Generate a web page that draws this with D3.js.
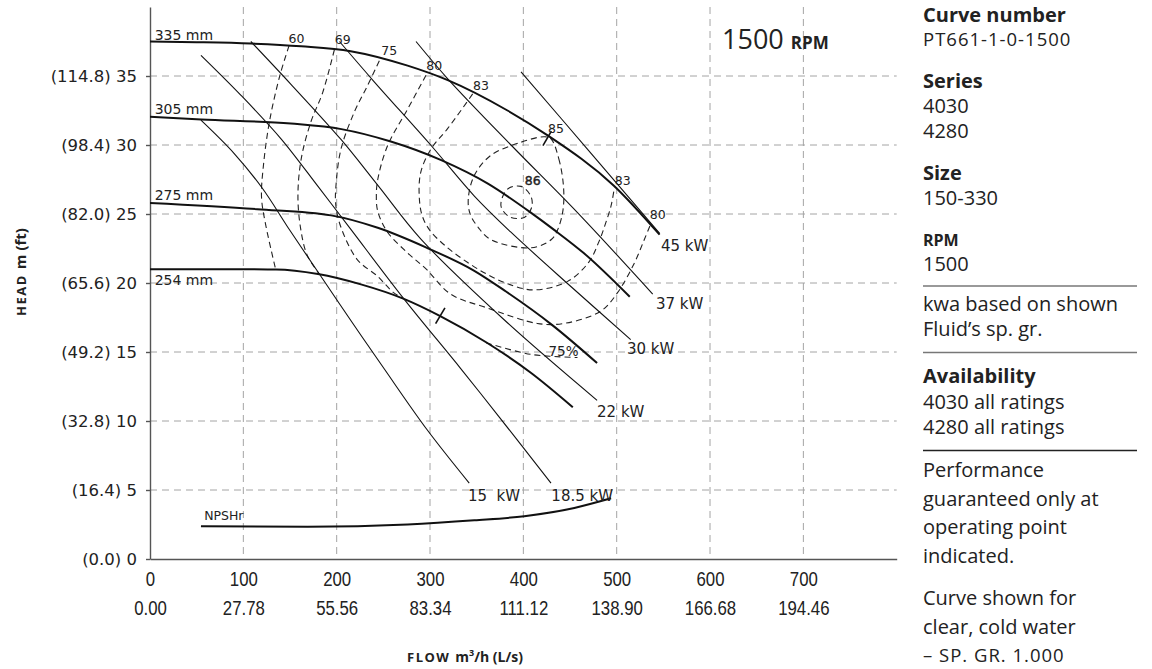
<!DOCTYPE html>
<html>
<head>
<meta charset="utf-8">
<script src="https://cdn.jsdelivr.net/npm/d3@7"></script>
<style>
  body { margin: 0; background: #fff; }
  svg { display: block; }
  .grid line { stroke: #a4a4a4; stroke-width: 1; stroke-dasharray: 7,5; }
  .axis path, .axis line { stroke: #555; stroke-width: 1.4; }
  .axis text { fill: #222; }
  .y-axis text { font: 16.5px "DejaVu Sans", sans-serif; }
  .x-axis text { font: 21px "Liberation Sans", sans-serif; }
  .impeller { fill: none; stroke: #111; stroke-width: 2; }
  .power { fill: none; stroke: #111; stroke-width: 1.1; }
  .eff { fill: none; stroke: #222; stroke-width: 1.1; stroke-dasharray: 6,4; }
  .labels { font-family: "DejaVu Sans", sans-serif; fill: #222; }
  .panel { font-family: "Open Sans", sans-serif; fill: #222; }
</style>
</head>
<body>
<div class="chart"></div>
<script>
/* axis ticks */
const flowTicks = [0, 100, 200, 300, 400, 500, 600, 700];
const flowLps = ["0.00", "27.78", "55.56", "83.34", "111.12", "138.90", "166.68", "194.46"];
const headTicks = [0, 5, 10, 15, 20, 25, 30, 35];
const headFeet = ["(0.0)", "(16.4)", "(32.8)", "(49.2)", "(65.6)", "(82.0)", "(98.4)", "(114.8)"];

/* impeller curves as [flow m3/h, head m] */
const imp335 = [[0, 37.5], [50, 37.45], [108, 37.35], [162, 37.15], [215, 36.8], [276, 35.75], [319, 34.7], [383, 32.5], [426, 30.7], [497, 27.05], [546, 23.5]];
const imp305 = [[0, 32.05], [55, 31.85], [151, 31.55], [205, 31.15], [258, 30.25], [312, 28.9], [362, 27.2], [408, 25.1], [433, 23.85], [465, 22.15], [514, 19.0]];
const imp275 = [[0, 25.8], [115, 25.35], [194, 24.9], [244, 24.0], [295, 22.6], [347, 20.9], [381, 19.4], [431, 16.95], [479, 14.2]];
const imp254 = [[0, 21.0], [70, 21.0], [135, 20.98], [180, 20.65], [226, 19.9], [272, 18.85], [311, 17.6], [361, 15.67], [408, 13.5], [453, 11.0]];
const impellers = [imp335, imp305, imp275, imp254];
const impellerNames = ["335 mm", "305 mm", "275 mm", "254 mm"];
const impellerLabelAt = [[5, 38.0], [5, 32.6], [5, 26.4], [5, 20.2]];

/* operating point marks */
const duty335 = [[421, 29.95], [430, 31.0]];
const duty254 = [[306, 17.05], [316, 18.2]];

/* efficiency contours */
const eff60 = [[149, 37.2], [139, 35], [128, 31.7], [121.5, 28.5], [119.5, 26.2], [124, 24.2], [134.6, 21.0]];
const eff69 = [[197.5, 36.9], [185, 33.8], [172.5, 31.7], [162, 29.0], [158.5, 26.3], [161.5, 23.9], [168.5, 22.0], [182, 20.6]];
const eff75 = [[245.7, 36.1], [233, 34.3], [219, 32.4], [204.6, 29.7], [199.3, 27.1], [199, 25.7], [204, 24.15], [222, 21.7], [243.6, 20.5], [261, 19.3], [272, 18.85]];
const eff75low = [[360, 15.67], [408, 14.83], [458, 14.6]];
const eff80 = [[295.7, 35.05], [276, 32.6], [254.6, 29.96], [244, 27.5], [242.5, 26.3], [244, 25.2], [254.3, 23.7], [275.7, 22.2], [296, 21.0], [322, 19.2], [361, 18.2], [415, 17.07], [443.6, 17.07], [482.9, 17.96], [500.7, 19.28], [518.6, 21.4], [529.3, 23.1], [536, 24.2]];
const eff83 = [[345.7, 33.7], [319, 31.2], [301, 29.7], [290, 28.0], [288.6, 26.1], [292, 24.8], [300, 23.8], [318, 22.6], [340, 21.5], [362, 20.6], [385, 19.9], [411, 19.5], [447, 20.1], [470, 21.5], [481, 23.0], [488, 24.3], [494, 25.6], [497.5, 26.9]];
const eff85 = [[429.6, 30.45], [438, 29.0], [443, 27.0], [442.5, 25.3], [437, 23.9], [430, 23.15], [408, 22.55], [365, 23.15], [352, 24.0], [343, 25.0], [341, 26.1], [347.5, 27.8], [365, 29.24], [397.5, 30.2], [422.5, 30.6]];
const eff86 = [[376, 25.6], [383, 26.8], [397.5, 27.0], [408, 26.3], [409, 25.5], [401, 24.75], [385, 24.8]];
const effOpen = [eff60, eff69, eff75, eff75low, eff80, eff83];
const effLoops = [eff85, eff86];
const effNames = ["60", "69", "75", "80", "83", "85", "86", "83", "80", "75%"];
const effLabelAt = [[157, 37.7], [206.4, 37.6], [256.4, 36.86], [304.6, 35.77], [354.6, 34.3], [435, 31.2], [410, 27.4], [506.4, 27.4], [544, 24.95], [443, 15.05]];

/* power lines */
const kw15 = [[54.6, 31.8], [90, 29.4], [120, 26.9], [150, 23.8], [180, 20.8], [215, 17.3], [250.7, 13.8], [296.5, 9.4], [342, 5.5]];
const kw18 = [[54.6, 36.5], [97.5, 33.6], [140.4, 30.45], [180, 27.0], [215, 23.9], [272, 18.85], [332.9, 13.8], [374, 10.3], [429.6, 5.5]];
const kw22 = [[108, 37.5], [151, 34.4], [204.6, 30.4], [245, 27.0], [290, 23.2], [380, 17.3], [479, 11.5]];
const kw30 = [[203, 37.5], [240, 34.6], [300.7, 30.0], [347.5, 26.3], [386.4, 23.7], [450, 19.8], [515, 15.9]];
const kw37 = [[285, 37.5], [319, 34.8], [386.8, 30.0], [458, 25.1], [538.6, 19.2]];
const kw45 = [[397.5, 35.3], [470, 29.6], [546, 23.6]];
const powers = [kw15, kw18, kw22, kw30, kw37, kw45];
const powerNames = ["15\u00a0\u00a0kW", "18.5 kW", "22 kW", "30 kW", "37 kW", "45 kW"];
const powerLabelAt = [[340.7, 4.6], [430, 4.6], [479, 10.65], [511, 15.2], [542, 18.5], [547.5, 22.7]];

/* NPSH required */
const npshr = [[54.6, 2.37], [169, 2.34], [276, 2.5], [347.5, 2.8], [401, 3.1], [454.6, 3.7], [494, 4.4]];

/* side panel text */
const panelText = ["Curve number", "PT661-1-0-1500", "Series", "4030", "4280", "Size", "150-330", "RPM", "1500",
  "kwa based on shown", "Fluid\u2019s sp. gr.", "Availability", "4030 all ratings", "4280 all ratings",
  "Performance", "guaranteed only at", "operating point", "indicated.", "Curve shown for", "clear, cold water", "\u2013 SP. GR. 1.000"];

function createChart() {

  /* container */
  const width = 1152;
  const height = 669;
  const svg = d3.select('.chart')
    .append('svg')
    .attr("width", width)
    .attr("height", height);

  /* scales */
  const x = d3.scaleLinear().domain([0, 800]).range([150, 896.7]);
  const y = d3.scaleLinear().domain([0, 40]).range([559, 7]);

  /* dashed grid */
  const grid = svg.append("g").attr("class", "grid");
  grid.selectAll(".v")
    .data(flowTicks.slice(1))
    .enter()
    .append("line")
    .attr("x1", d => x(d)).attr("x2", d => x(d))
    .attr("y1", y(40)).attr("y2", y(0));
  grid.selectAll(".h")
    .data(headTicks.slice(1))
    .enter()
    .append("line")
    .attr("x1", x(0)).attr("x2", x(800))
    .attr("y1", d => y(d)).attr("y2", d => y(d));

  /* y axis with feet in brackets */
  svg.append("g")
    .attr("class", "axis y-axis")
    .attr("transform", `translate(${x(0)},0)`)
    .call(d3.axisLeft(y).tickValues(headTicks).tickSize(4).tickSizeOuter(0).tickPadding(9)
      .tickFormat((d, i) => headFeet[i] + " " + d));

  /* x axis, two rows of labels (narrowed text) */
  const xAxis = svg.append("g")
    .attr("class", "axis x-axis")
    .attr("transform", `translate(0,${y(0)})`)
    .call(d3.axisBottom(x).tickValues(flowTicks).tickSize(0).tickSizeOuter(0).tickPadding(12));
  xAxis.selectAll(".tick")
    .append("text")
    .attr("y", 41)
    .attr("dy", "0.71em")
    .attr("fill", "#222")
    .text((d, i) => flowLps[i]);
  xAxis.selectAll(".tick text")
    .attr("transform", "scale(0.8,1)");

  const line = d3.line()
    .x(d => x(d[0]))
    .y(d => y(d[1]))
    .curve(d3.curveCatmullRom.alpha(0.5));
  const smooth = d3.line()
    .x(d => x(d[0]))
    .y(d => y(d[1]))
    .curve(d3.curveMonotoneX);
  const loop = d3.line()
    .x(d => x(d[0]))
    .y(d => y(d[1]))
    .curve(d3.curveCatmullRomClosed.alpha(0.5));
  const straight = d3.line()
    .x(d => x(d[0]))
    .y(d => y(d[1]));

  /* efficiency contours */
  svg.append("g").selectAll("path")
    .data(effOpen)
    .enter()
    .append("path")
    .attr("class", "eff")
    .attr("d", line);
  svg.append("g").selectAll("path")
    .data(effLoops)
    .enter()
    .append("path")
    .attr("class", "eff")
    .attr("d", loop);

  /* power lines */
  svg.append("g").selectAll("path")
    .data(powers)
    .enter()
    .append("path")
    .attr("class", "power")
    .attr("d", line);

  /* impeller curves */
  svg.append("g").selectAll("path")
    .data(impellers)
    .enter()
    .append("path")
    .attr("class", "impeller")
    .attr("d", smooth);

  /* duty point ticks */
  svg.append("g").selectAll("path")
    .data([duty335, duty254])
    .enter()
    .append("path")
    .attr("class", "impeller")
    .style("stroke-width", 1.6)
    .attr("d", straight);

  /* NPSHr */
  svg.append("path")
    .attr("class", "impeller")
    .attr("d", smooth(npshr));

  /* impeller labels */
  svg.append("g").selectAll("text")
    .data(impellerNames)
    .enter()
    .append("text")
    .attr("class", "labels")
    .attr("x", (d, i) => x(impellerLabelAt[i][0]))
    .attr("y", (d, i) => y(impellerLabelAt[i][1]))
    .attr("dy", "0.35em")
    .style("font-size", "14px")
    .text(d => d);

  /* efficiency labels */
  svg.append("g").selectAll("text")
    .data(effNames)
    .enter()
    .append("text")
    .attr("class", "labels")
    .attr("x", (d, i) => x(effLabelAt[i][0]))
    .attr("y", (d, i) => y(effLabelAt[i][1]))
    .attr("dy", "0.35em")
    .attr("text-anchor", "middle")
    .style("font-size", (d, i) => i == 9 ? "13.5px" : "12.5px")
    .style("stroke", (d, i) => i == 6 ? "#222" : "none")
    .style("stroke-width", 0.4)
    .text(d => d);

  /* power labels */
  svg.append("g").selectAll("text")
    .data(powerNames)
    .enter()
    .append("text")
    .attr("class", "labels")
    .attr("x", (d, i) => x(powerLabelAt[i][0]))
    .attr("y", (d, i) => y(powerLabelAt[i][1]))
    .attr("dy", "0.35em")
    .style("font-size", "15px")
    .text(d => d);

  /* NPSHr label */
  svg.append("text")
    .attr("class", "labels")
    .attr("x", x(58))
    .attr("y", y(2.85))
    .style("font-size", "12.5px")
    .text("NPSHr");

  /* speed label */
  const rpm = svg.append("text")
    .attr("class", "panel")
    .attr("x", 722)
    .attr("y", 49);
  rpm.append("tspan").style("font-size", "27px").text("1500 ");
  rpm.append("tspan").style("font-size", "17px").style("font-weight", "bold").text("RPM");

  /* axis titles */
  const flowTitle = svg.append("text")
    .attr("class", "panel")
    .attr("x", 465)
    .attr("y", 662)
    .attr("text-anchor", "middle")
    .style("font-weight", "bold");
  flowTitle.append("tspan").style("font-size", "13px").style("letter-spacing", "1.5px").text("FLOW ");
  flowTitle.append("tspan").style("font-size", "14px").text("m");
  flowTitle.append("tspan").style("font-size", "9px").attr("dy", -6).text("3");
  flowTitle.append("tspan").style("font-size", "14px").attr("dy", 6).text("/h (L/s)");

  const headTitle = svg.append("text")
    .attr("class", "panel")
    .attr("transform", "translate(26,272) rotate(-90)")
    .attr("text-anchor", "middle")
    .style("font-weight", "bold");
  headTitle.append("tspan").style("font-size", "13px").style("letter-spacing", "1.5px").text("HEAD ");
  headTitle.append("tspan").style("font-size", "15px").text("m (ft)");

  /* side panel */
  const kinds = ["head", "caps", "head", "body", "body", "head", "body", "sub", "body",
    "body", "body", "head", "body", "body", "body", "body", "body", "body", "body", "body", "caps"];
  const baselines = [22, 46, 88, 113, 138, 180, 205, 246, 271, 311, 336, 383, 409, 434, 477, 506, 534, 563, 605, 634, 662];
  const sizes = { head: "20px", caps: "18.5px", body: "20px", sub: "16px" };
  svg.append("g").selectAll("text")
    .data(panelText)
    .enter()
    .append("text")
    .attr("class", "panel")
    .attr("x", 923)
    .attr("y", (d, i) => baselines[i])
    .style("font-size", (d, i) => sizes[kinds[i]])
    .style("font-weight", (d, i) => (kinds[i] == "head" || kinds[i] == "sub") ? "bold" : "normal")
    .style("letter-spacing", (d, i) => kinds[i] == "caps" ? "1px" : "0px")
    .text(d => d);

  /* panel rules */
  svg.append("g").selectAll("line")
    .data([286, 352.5, 450.5])
    .enter()
    .append("line")
    .attr("x1", 923).attr("x2", 1137)
    .attr("y1", d => d).attr("y2", d => d)
    .style("stroke", (d, i) => i < 2 ? "#777" : "#222")
    .style("stroke-width", 1.4);
}

createChart();
</script>
</body>
</html>
